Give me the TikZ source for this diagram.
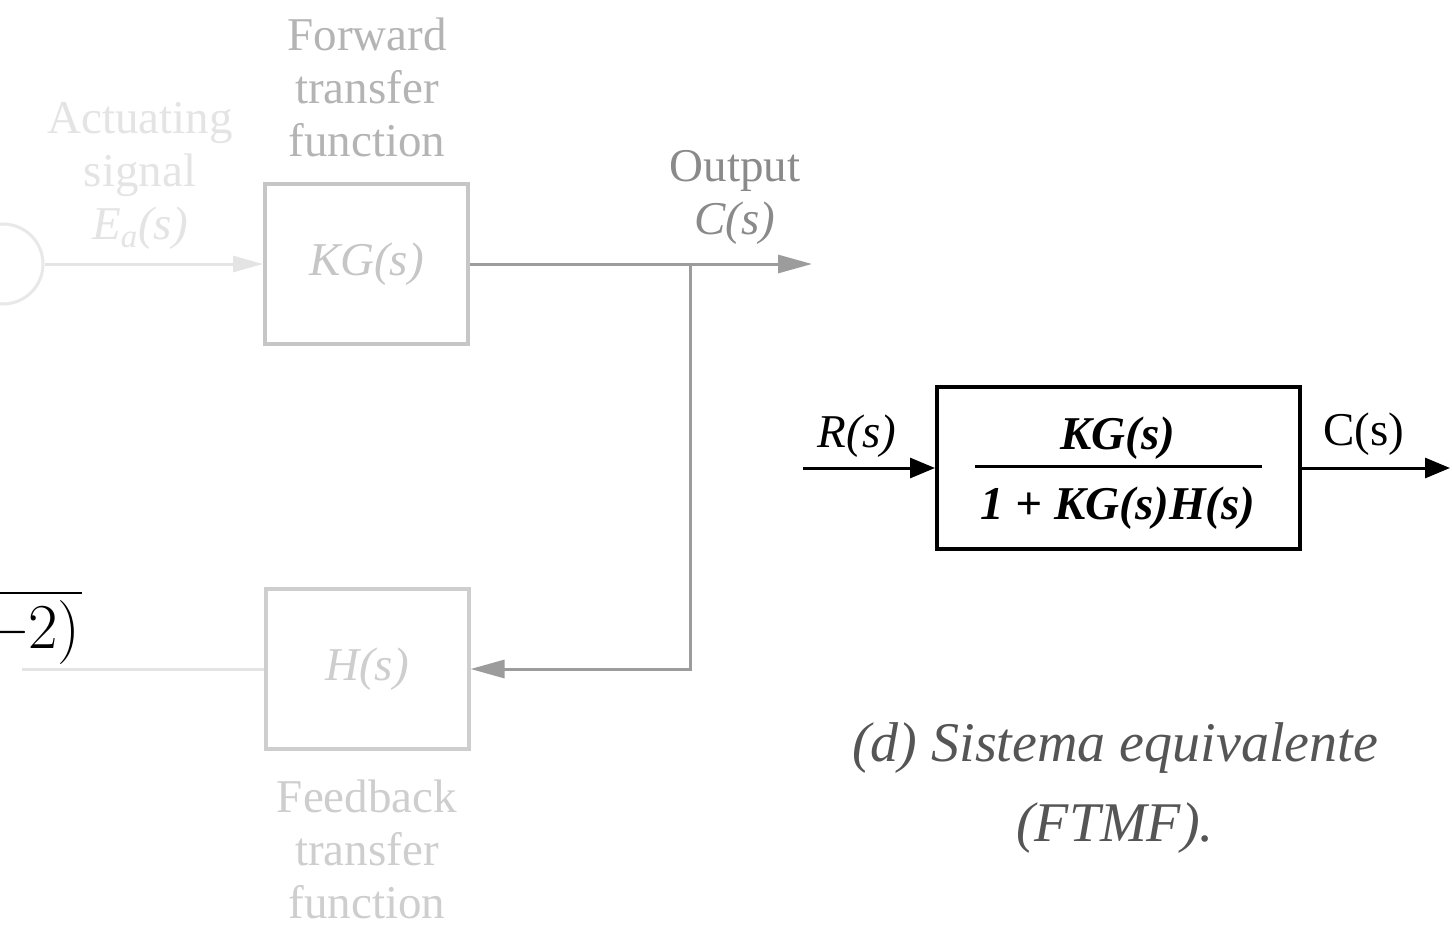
\documentclass[tikz,border=0pt]{standalone}
\usepackage{fontspec}
\usepackage{tikz}
\usetikzlibrary{arrows.meta}
\newfontfamily\timesfont{Liberation Serif}
\definecolor{faint}{HTML}{E4E4E4}
\definecolor{fwdgray}{HTML}{B4B4B4}
\definecolor{boxgray}{HTML}{C6C6C6}
\definecolor{hgray}{HTML}{CECECE}
\definecolor{linegray}{HTML}{9C9C9C}
\definecolor{outgray}{HTML}{8A8A8A}
\definecolor{capgray}{HTML}{555555}

\begin{document}
\begin{tikzpicture}[x=0.5pt,y=-0.5pt,
  txt/.style={font=\timesfont\fontsize{23.5}{26.5}\selectfont,align=center,inner sep=0pt},
  box/.style={txt,draw,line width=2pt,minimum width=101.5pt,minimum height=80pt},
  tip/.style={-{Triangle[length=15pt,width=8pt]}}]
\useasboundingbox[fill=white] (0,0) rectangle (1452,927);
%\draw[step=50] (0,0) grid (1452,927);

% faded feedback loop
\node[draw=faint!85!white,line width=1.5pt,circle,minimum size=40pt,inner sep=0pt] (sum) at (3,264) {};
\node[box,draw=boxgray,text=boxgray] (kg) at (366.5,264) {\itshape KG(s)};
\node[box,draw=hgray,text=hgray] (h) at (367,669) {\itshape H(s)};
\coordinate (out) at (812,264);
\coordinate (br) at (690,264);
\coordinate (hl) at (22,669);
\draw[tip,faint,line width=1.5pt] (sum.east) -- (kg.west);
\draw[-{Triangle[length=17pt,width=9pt]},linegray,line width=1.5pt] (kg.east) -- (out);
\draw[-{Triangle[length=17pt,width=9pt]},linegray,line width=1.5pt] (br) |- (h.east);
\draw[faint,line width=1.5pt] (h.west) -- (hl);

\node[txt,text=fwdgray] (fwd) at (367,87) {Forward\\transfer\\function};
\node[txt,text=faint] (act) at (140,176) {Actuating\\signal\\\textit{E}\textsubscript{\textit{a}}\textit{(s)}};
\node[txt,text=outgray] (outlbl) at (735,197) {Output\\\textit{C(s)}};
\node[txt,text=hgray] (fb) at (367,849) {Feedback\\transfer\\function};

% cut fraction
\draw[line width=1pt] (0,593) -- (82,593);
\node[anchor=east,inner sep=0pt,font=\fontsize{32}{36}\selectfont] (frag) at (81,633) {\symbol{"2212}2)};

% equivalent system
\node[box,minimum width=181.5pt,minimum height=81pt] (eq) at (1118.5,468) {};
\node[txt,font=\timesfont\bfseries\itshape\fontsize{23.5}{26.5}\selectfont,anchor=base] (num) at (1118,449) {KG(s)};
\draw[line width=1.5pt] (975,466) -- (1262,466);
\node[txt,font=\timesfont\bfseries\itshape\fontsize{23.5}{26.5}\selectfont,anchor=base] (den) at (1118,519) {1 + KG(s)H(s)};
\coordinate (rin) at (803,468);
\coordinate (rout) at (1450,468);
\draw[line width=1.5pt,-{Triangle[length=12.5pt,width=10pt]}] (rin) -- (eq.west);
\draw[line width=1.5pt,-{Triangle[length=12.5pt,width=10pt]}] (eq.east) -- (rout);
\node[txt,anchor=base] (r) at (857,447) {\itshape R(s)};
\node[txt,anchor=base] (c) at (1364,445) {C(s)};

\node[align=center,font=\timesfont\itshape\fontsize{28}{40}\selectfont,text=capgray] (cap) at (1115,788) {(d) Sistema equivalente\\(FTMF).};
\end{tikzpicture}
\end{document}
